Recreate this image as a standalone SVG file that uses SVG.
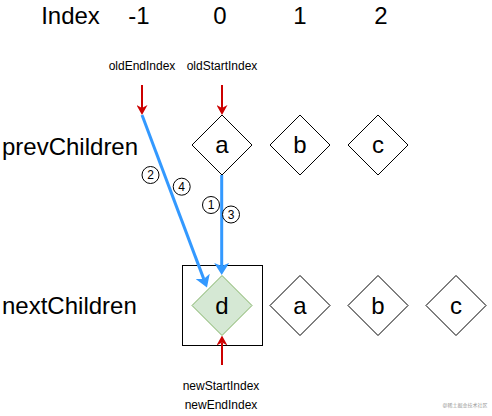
<svg xmlns="http://www.w3.org/2000/svg" width="492" height="416" viewBox="0 0 492 416">
<defs>
<style>
text{font-family:"Liberation Sans",Arial,sans-serif;fill:#000;text-anchor:middle}
.hdr{font-size:24px}
.row{font-size:24px;text-anchor:start}
.lbl{font-size:12px}
.dia{fill:#fff;stroke:#000;stroke-width:1}
.dlt{font-size:24px}
.num{font-size:12px}
.circ{fill:#fff;stroke:#000;stroke-width:1}
.red{stroke:#cc0000;stroke-width:2;fill:none}
.blue{stroke:#3399ff;stroke-width:3;fill:none}
</style>
<marker id="ra" viewBox="0 0 10 11" refX="3" refY="5.5" markerWidth="10" markerHeight="11" orient="auto" markerUnits="userSpaceOnUse"><path d="M0,0 L10,5.5 L0,11 L3,5.5 Z" fill="#cc0000"/></marker>
<marker id="ba" viewBox="0 0 12 15" refX="3" refY="7.5" markerWidth="12" markerHeight="15" orient="auto" markerUnits="userSpaceOnUse"><path d="M0,0 L12,7.5 L0,15 L3,7.5 Z" fill="#3399ff"/></marker>
</defs>
<rect width="492" height="416" fill="#fff"/>
<g id="header">
<text class="hdr" x="70.5" y="24">Index</text>
<text class="hdr" x="139" y="24">-1</text>
<text class="hdr" x="220" y="24">0</text>
<text class="hdr" x="300" y="24">1</text>
<text class="hdr" x="381" y="24">2</text>
</g>
<g id="labels">
<text class="lbl" x="142" y="70">oldEndIndex</text>
<text class="lbl" x="222" y="70">oldStartIndex</text>
<text class="lbl" x="221" y="390">newStartIndex</text>
<text class="lbl" x="221" y="409">newEndIndex</text>
</g>
<g id="prevChildren-label"><text class="row" x="2" y="155">prevChildren</text></g>
<g id="nextChildren-label"><text class="row" x="2" y="314">nextChildren</text></g>
<g id="prev-a"><path class="dia" d="M222,115 L252,145 L222,175 L192,145 Z"/><text class="dlt" x="222" y="153">a</text></g>
<g id="prev-b"><path class="dia" d="M300,115 L330,145 L300,175 L270,145 Z"/><text class="dlt" x="300" y="153">b</text></g>
<g id="prev-c"><path class="dia" d="M378,115 L408,145 L378,175 L348,145 Z"/><text class="dlt" x="378" y="153">c</text></g>
<g id="next-box"><rect x="182.5" y="265.5" width="80" height="80" fill="none" stroke="#000" stroke-width="1"/></g>
<g id="next-d"><path d="M222,275.5 L252,305.5 L222,335.5 L192,305.5 Z" fill="#d5e8d4" stroke="#82b366" stroke-width="1"/><text class="dlt" x="222" y="313.5">d</text></g>
<g id="next-a"><path class="dia" d="M300,275.5 L330,305.5 L300,335.5 L270,305.5 Z"/><text class="dlt" x="300" y="313.5">a</text></g>
<g id="next-b"><path class="dia" d="M378,275.5 L408,305.5 L378,335.5 L348,305.5 Z"/><text class="dlt" x="378" y="313.5">b</text></g>
<g id="next-c"><path class="dia" d="M456,275.5 L486,305.5 L456,335.5 L426,305.5 Z"/><text class="dlt" x="456" y="313.5">c</text></g>
<g id="connectors">
<line class="red" x1="142" y1="85" x2="142" y2="108" marker-end="url(#ra)"/>
<line class="red" x1="222" y1="85" x2="222" y2="108" marker-end="url(#ra)"/>
<line class="red" x1="222" y1="365" x2="222" y2="342.5" marker-end="url(#ra)"/>
<line class="blue" x1="142" y1="115" x2="203.8" y2="279.1" marker-end="url(#ba)"/>
<line class="blue" x1="221.7" y1="175" x2="221.7" y2="266" marker-end="url(#ba)"/>
</g>
<g id="step-labels">
<circle class="circ" cx="150.5" cy="175" r="8.5"/><text class="num" x="150.5" y="179.3">2</text>
<circle class="circ" cx="181.7" cy="186.7" r="8.5"/><text class="num" x="181.7" y="191">4</text>
<circle class="circ" cx="211" cy="205" r="8.5"/><text class="num" x="211" y="209.3">1</text>
<circle class="circ" cx="231" cy="214.5" r="8.5"/><text class="num" x="231" y="218.8">3</text>
</g>
<text x="465" y="407" style="font-size:5px;fill:#999;font-family:'Liberation Sans','Noto Sans CJK SC',sans-serif">@稀土掘金技术社区</text>
</svg>
